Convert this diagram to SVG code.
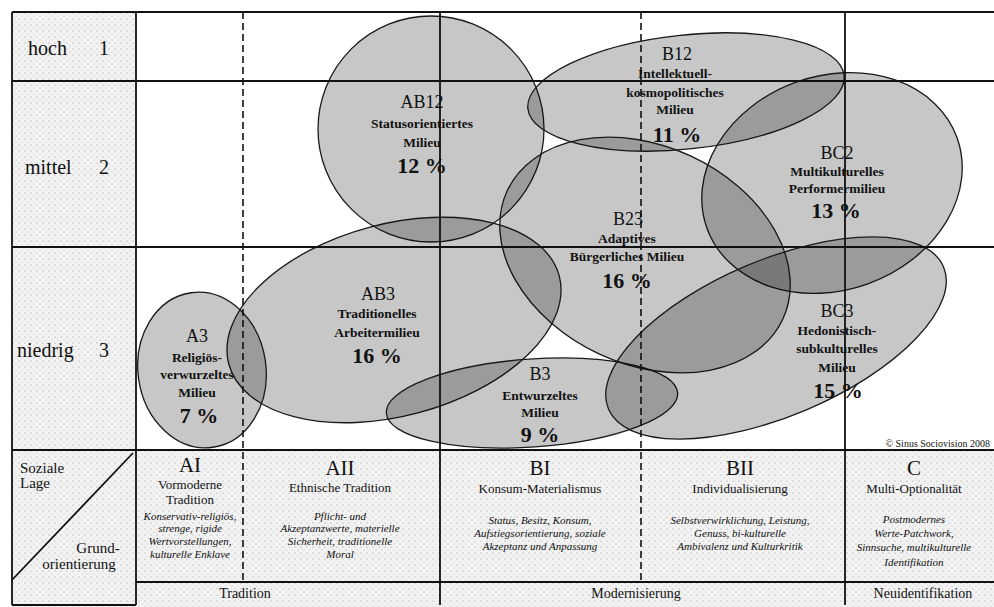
<svg xmlns="http://www.w3.org/2000/svg" width="994" height="607" viewBox="0 0 994 607">
<defs>
<style>
.ell{fill:#000;fill-opacity:0.22;stroke:#1a1a1a;stroke-width:1.3}
.g{stroke:#111;stroke-width:1.8;fill:none}
.d{stroke:#111;stroke-width:1.6;stroke-dasharray:7 4;fill:none}
text{font-family:"Liberation Serif","Times New Roman",serif;fill:#111}
.code{font-size:18px;text-anchor:middle}
.nm{font-size:13.5px;font-weight:bold;text-anchor:middle}
.pc{font-size:22px;font-weight:bold;text-anchor:middle}
.row{font-size:20px}
.num{font-size:20px;text-anchor:middle}
.hd{font-size:21px;text-anchor:middle}
.sub{font-size:13px;text-anchor:middle}
.it{font-size:11px;font-style:italic;text-anchor:middle}
.ax{font-size:14px;text-anchor:middle}
.lab{font-size:15px}
.cr{font-size:10px;text-anchor:end}
</style>
<pattern id="stip" width="6" height="6" patternUnits="userSpaceOnUse">
<rect width="6" height="6" fill="#f2f2f2"/>
<circle cx="1" cy="1" r="0.6" fill="#9a9a9a"/>
<circle cx="4" cy="4" r="0.5" fill="#b4b4b4"/>
</pattern>
</defs>
<rect width="994" height="607" fill="#fff"/>
<rect x="12" y="12" width="124" height="438" fill="url(#stip)"/>
<rect x="12" y="450" width="982" height="157" fill="url(#stip)"/>

<g id="AB12">
<circle class="ell" cx="431" cy="129" r="113"/>
<text class="code" x="422" y="108">AB12</text>
<text class="nm" x="422" y="128">Statusorientiertes</text>
<text class="nm" x="422" y="147">Milieu</text>
<text class="pc" x="422" y="173">12 %</text>
</g>
<g id="B12">
<ellipse class="ell" cx="686" cy="92" rx="159" ry="57" transform="rotate(-6 686 92)"/>
<text class="code" x="677" y="60">B12</text>
<text class="nm" x="675" y="78">Intellektuell-</text>
<text class="nm" x="675" y="97">kosmopolitisches</text>
<text class="nm" x="675" y="114">Milieu</text>
<text class="pc" x="677" y="142">11 %</text>
</g>
<g id="BC2">
<ellipse class="ell" cx="832" cy="183" rx="133" ry="107" transform="rotate(-20 832 183)"/>
<text class="code" x="837" y="159">BC2</text>
<text class="nm" x="837" y="176">Multikulturelles</text>
<text class="nm" x="837" y="193">Performermilieu</text>
<text class="pc" x="836" y="218">13 %</text>
</g>
<g id="B23">
<ellipse class="ell" cx="645" cy="255" rx="152" ry="109" transform="rotate(25 645 255)"/>
<text class="code" x="628" y="225">B23</text>
<text class="nm" x="627" y="243">Adaptives</text>
<text class="nm" x="627" y="261">Bürgerliches Milieu</text>
<text class="pc" x="627" y="288">16 %</text>
</g>
<g id="AB3">
<ellipse class="ell" cx="394" cy="320" rx="171" ry="96" transform="rotate(-15 394 320)"/>
<text class="code" x="378" y="300">AB3</text>
<text class="nm" x="377" y="318">Traditionelles</text>
<text class="nm" x="377" y="337">Arbeitermilieu</text>
<text class="pc" x="377" y="363">16 %</text>
</g>
<g id="A3">
<ellipse class="ell" cx="202" cy="370" rx="64" ry="78" transform="rotate(-8 202 370)"/>
<text class="code" x="197" y="342">A3</text>
<text class="nm" x="197" y="362">Religiös-</text>
<text class="nm" x="197" y="379">verwurzeltes</text>
<text class="nm" x="197" y="397">Milieu</text>
<text class="pc" x="199" y="423">7 %</text>
</g>
<g id="B3">
<ellipse class="ell" cx="532" cy="403" rx="146" ry="44" transform="rotate(-4 532 403)"/>
<text class="code" x="540" y="380">B3</text>
<text class="nm" x="540" y="400">Entwurzeltes</text>
<text class="nm" x="540" y="417">Milieu</text>
<text class="pc" x="540" y="442">9 %</text>
</g>
<g id="BC3">
<ellipse class="ell" cx="776" cy="338" rx="182" ry="78" transform="rotate(-23 776 338)"/>
<text class="code" x="837" y="317">BC3</text>
<text class="nm" x="837" y="335">Hedonistisch-</text>
<text class="nm" x="837" y="353">subkulturelles</text>
<text class="nm" x="837" y="372">Milieu</text>
<text class="pc" x="838" y="398">15 %</text>
</g>

<g id="grid">
<path class="g" d="M12 12H994M12 81H994M12 247H994M12 450H994M136 582H994M12 605H136"/>
<path class="g" d="M12 12V605M136 12V605M440 12V605M845 12V605"/>
<path class="d" d="M243 12V582M641 12V582"/>
<path class="g" d="M12 580L133 453" stroke-width="1.5"/>
</g>

<g id="rows">
<text class="row" x="28" y="55">hoch</text>
<text class="num" x="104" y="55">1</text>
<text class="row" x="25" y="174">mittel</text>
<text class="num" x="104" y="174">2</text>
<text class="row" x="17" y="357">niedrig</text>
<text class="num" x="104" y="357">3</text>
</g>

<g id="corner">
<text class="lab" x="20" y="473">Soziale</text>
<text class="lab" x="20" y="488">Lage</text>
<text class="lab" x="98" y="553" text-anchor="middle">Grund-</text>
<text class="lab" x="79" y="569" text-anchor="middle">orientierung</text>
</g>

<g id="AI">
<text class="hd" x="190" y="472">AI</text>
<text class="sub" x="190" y="489">Vormoderne</text>
<text class="sub" x="190" y="504">Tradition</text>
<text class="it" x="190" y="520">Konservativ-religiös,</text>
<text class="it" x="190" y="532">strenge, rigide</text>
<text class="it" x="190" y="545">Wertvorstellungen,</text>
<text class="it" x="190" y="558">kulturelle Enklave</text>
</g>
<g id="AII">
<text class="hd" x="340" y="475">AII</text>
<text class="sub" x="340" y="492">Ethnische Tradition</text>
<text class="it" x="340" y="520">Pflicht- und</text>
<text class="it" x="340" y="532">Akzeptanzwerte, materielle</text>
<text class="it" x="340" y="545">Sicherheit, traditionelle</text>
<text class="it" x="340" y="558">Moral</text>
</g>
<g id="BI">
<text class="hd" x="540" y="475">BI</text>
<text class="sub" x="540" y="493">Konsum-Materialismus</text>
<text class="it" x="540" y="524">Status, Besitz, Konsum,</text>
<text class="it" x="540" y="537">Aufstiegsorientierung, soziale</text>
<text class="it" x="540" y="550">Akzeptanz und Anpassung</text>
</g>
<g id="BII">
<text class="hd" x="740" y="475">BII</text>
<text class="sub" x="740" y="493">Individualisierung</text>
<text class="it" x="740" y="524">Selbstverwirklichung, Leistung,</text>
<text class="it" x="740" y="537">Genuss, bi-kulturelle</text>
<text class="it" x="740" y="550">Ambivalenz und Kulturkritik</text>
</g>
<g id="C">
<text class="hd" x="914" y="475">C</text>
<text class="sub" x="914" y="493">Multi-Optionalität</text>
<text class="it" x="914" y="523">Postmodernes</text>
<text class="it" x="914" y="537">Werte-Patchwork,</text>
<text class="it" x="914" y="551">Sinnsuche, multikulturelle</text>
<text class="it" x="914" y="566">Identifikation</text>
</g>
<g id="axis">
<text class="ax" x="245" y="598">Tradition</text>
<text class="ax" x="636" y="598">Modernisierung</text>
<text class="ax" x="923" y="598">Neuidentifikation</text>
</g>
<text class="cr" x="990" y="447">© Sinus Sociovision 2008</text>
</svg>
